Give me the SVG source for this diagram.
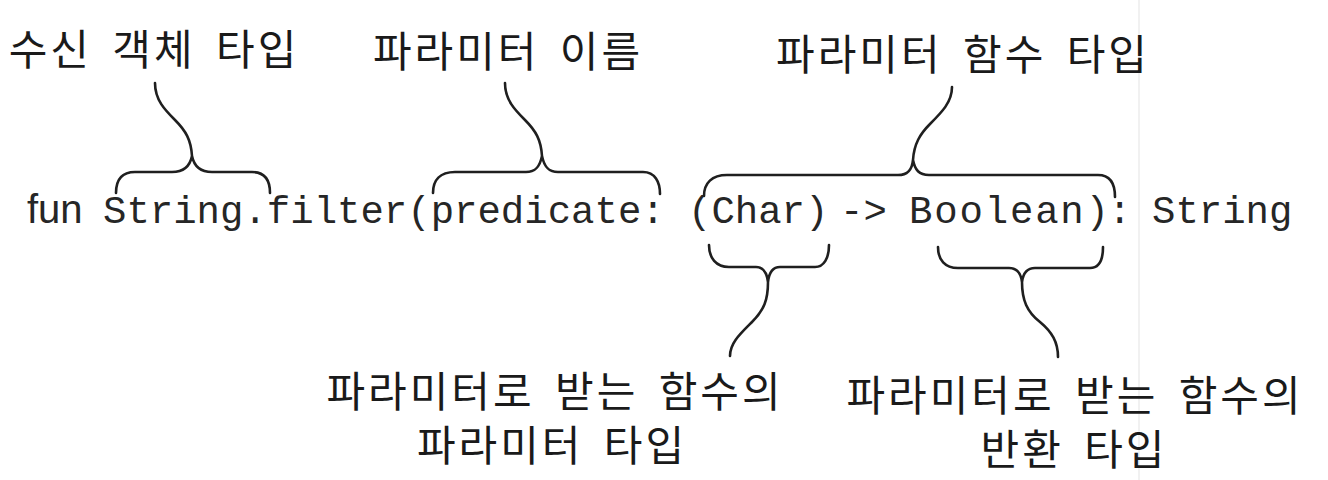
<svg xmlns="http://www.w3.org/2000/svg" width="1328" height="480" viewBox="0 0 1328 480">
  <style>
    .ko { font-family: "Noto Sans CJK KR", "Noto Sans", sans-serif; font-size: 42px; fill: #1a1a1a; letter-spacing: 3px; word-spacing: 8px; text-anchor: middle; }
    .code { font-family: "Liberation Mono", monospace; font-size: 39px; fill: #262626; }
    .kw { font-family: "Liberation Sans", sans-serif; font-size: 40px; fill: #262626; }
    .brace { fill: none; stroke: #1f1f1f; stroke-width: 2.6; stroke-linecap: round; stroke-linejoin: round; }
  </style>
  <rect width="1328" height="480" fill="#ffffff"/>
  <line x1="1139" y1="0" x2="1139" y2="480" stroke="#ececec" stroke-width="1.5"/>

  <g id="label-receiver">
    <text class="ko" x="154" y="65">수신 객체 타입</text>
  </g>
  <g id="label-param-name">
    <text class="ko" x="508" y="67">파라미터 이름</text>
  </g>
  <g id="label-param-func-type">
    <text class="ko" x="963" y="70">파라미터 함수 타입</text>
  </g>

  <g id="code-line">
    <text class="kw" x="27" y="223">fun</text>
    <text class="code" x="103" y="223">String.filter(predicate:</text>
    <text class="code" x="688" y="223">(Char)</text>
    <text class="code" x="840" y="223">-&gt;</text>
    <text class="code" x="909" y="223" textLength="200" lengthAdjust="spacing">Boolean)</text>
    <text class="code" x="1108" y="223">:</text>
    <text class="code" x="1152" y="223">String</text>
  </g>

  <g id="label-param-of-func">
    <text class="ko" x="555" y="407">파라미터로 받는 함수의</text>
    <text class="ko" x="552" y="461">파라미터 타입</text>
  </g>
  <g id="label-return-of-func">
    <text class="ko" x="1075" y="411">파라미터로 받는 함수의</text>
    <text class="ko" x="1074" y="465">반환 타입</text>
  </g>

  <g id="connectors">
    <path class="brace" d="M116,193 C116,180 122,172 135,172 L172,172 C184,172 190,166 192,156 C194,166 200,172 212,172 L252,172 C265,172 270,180 270,193 M192,156 C191,140 186,131 175,120 C165,110 155,100 155,83"/>
    <path class="brace" d="M433,193 C433,180 440,172 455,172 L526,172 C536,172 540,166 542,156 C544,166 548,172 558,172 L643,172 C655,172 660,182 660,194 M542,156 C541,140 536,131 525,120 C515,110 505,100 505,83"/>
    <path class="brace" d="M704,196 C704,183 712,175 727,175 L898,175 C908,175 912,170 913,160 C915,170 919,175 929,175 L1098,175 C1110,175 1115,184 1115,197 M913,160 C914,144 920,134 930,124 C942,112 952,102 952,87"/>
    <path class="brace" d="M709,245 C709,258 716,267 729,267 L756,267 C764,267 767,273 768,282 C769,273 772,267 780,267 L815,267 C824,267 829,258 829,245 M768,282 C768,300 764,310 752,322 C740,334 730,343 730,356"/>
    <path class="brace" d="M938,247 C938,260 945,268 958,268 L1009,268 C1017,268 1021,274 1022,282 C1023,274 1027,268 1035,268 L1090,268 C1099,268 1103,260 1103,247 M1022,282 C1022,300 1027,312 1040,322 C1052,332 1058,342 1058,357"/>
  </g>
</svg>
